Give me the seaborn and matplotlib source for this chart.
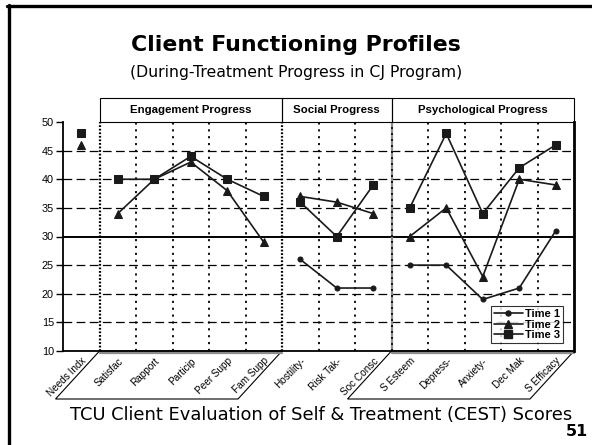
import numpy as np
import pandas as pd
import matplotlib
matplotlib.use("Agg")
import matplotlib.pyplot as plt
import matplotlib.transforms as mtransforms
from matplotlib.patches import Polygon, Rectangle
from matplotlib.lines import Line2D
import seaborn as sns

# ---- data -------------------------------------------------------------
scales = ["Needs Indx", "Satisfac", "Rapport", "Particip", "Peer Supp", "Fam Supp",
          "Hostility-", "Risk Tak-", "Soc Consc",
          "S Esteem", "Depress-", "Anxiety-", "Dec Mak", "S Efficacy"]
domains = ["Needs"] + ["Engagement"] * 5 + ["Social"] * 3 + ["Psychological"] * 5
time1 = [np.nan, np.nan, np.nan, np.nan, np.nan, np.nan, 26, 21, 21, 25, 25, 19, 21, 31]
time2 = [46, 34, 40, 43, 38, 29, 37, 36, 34, 30, 35, 23, 40, 39]
time3 = [48, 40, 40, 44, 40, 37, 36, 30, 39, 35, 48, 34, 42, 46]
time_labels = ["Time 1", "Time 2", "Time 3"]
panel_titles = ["Engagement Progress", "Social Progress", "Psychological Progress"]
panel_spans = [(1, 5), (6, 8), (9, 13)]   # first / last scale index of each panel
y_ticks = [10, 15, 20, 25, 30, 35, 40, 45, 50]

# ---- long table -------------------------------------------------------
rows = []
for label, values in zip(time_labels, [time1, time2, time3]):
    for i, (s, d, v) in enumerate(zip(scales, domains, values)):
        if not np.isnan(v):
            rows.append({"pos": i, "scale": s, "domain": d, "Time": label, "score": v})
df = pd.DataFrame(rows)

# ---- figure -----------------------------------------------------------
sns.set_theme(style="white")
plt.rcParams["font.family"] = ["Liberation Sans", "DejaVu Sans"]
plt.rcParams["text.color"] = "black"
plt.rcParams["xtick.color"] = "black"
plt.rcParams["ytick.color"] = "black"
plt.rcParams["axes.labelcolor"] = "black"

fig = plt.figure(figsize=(5.92, 4.45), dpi=100)
ax = fig.add_axes([63 / 592, 94 / 445, 511 / 592, 229 / 445])
ax.set_facecolor("white")

ink = "#1a1a1a"
markers = {"Time 1": ("o", 3.6), "Time 2": ("^", 6.0), "Time 3": ("s", 5.2)}

# grid lines
for y in y_ticks[1:-1]:
    if y == 30:
        ax.axhline(y, color="black", lw=1.4, zorder=1)
    else:
        ax.axhline(y, color="black", lw=0.9, ls=(0, (7, 3.5)), zorder=1)

n = len(scales)
for b in np.arange(0.5, n - 1, 1.0):
    if b in (0.5, 5.5):
        ax.axvline(b, color="black", lw=1.6, ls=(0, (0.8, 0.8)), zorder=1)
    elif b == 8.5:
        ax.axvline(b, color="#8c8c8c", lw=1.6, zorder=1)
        ax.axvline(b, color="black", lw=1.2, ls=(0, (1.2, 2.4)), zorder=1)
    else:
        ax.axvline(b, color="black", lw=1.3, ls=(0, (1.2, 2.6)), zorder=1)

# profile lines, broken between domains
for label in time_labels:
    m, ms = markers[label]
    sub = df[df["Time"] == label]
    sns.lineplot(data=sub, x="pos", y="score", units="domain", estimator=None,
                 sort=False, color=ink, lw=1.2, marker=m, markersize=ms,
                 markeredgecolor=ink, markerfacecolor=ink, legend=False,
                 ax=ax, zorder=3)

ax.set_xlim(-0.5, n - 0.5)
ax.set_ylim(10, 50)
ax.set_yticks(y_ticks)
ax.set_xticks(range(n))
ax.set_xticklabels(scales, rotation=45, ha="right", va="top",
                   rotation_mode="anchor", fontsize=7.2)
ax.tick_params(axis="x", length=0, pad=3.5)
ax.tick_params(axis="y", length=5, width=1, pad=1.5, labelsize=7.8,
               direction="out", left=True, color="black")
ax.set_xlabel("")
ax.set_ylabel("")
for side in ["left", "bottom", "right"]:
    ax.spines[side].set_visible(True)
    ax.spines[side].set_color("black")
ax.spines["left"].set_linewidth(1.3)
ax.spines["bottom"].set_linewidth(1.3)
ax.spines["right"].set_linewidth(2.0)
ax.spines["top"].set_visible(False)

# panel headers and slanted floors
blend = mtransforms.blended_transform_factory(ax.transData, ax.transAxes)
dx, dy = -44 / 36.5, -48 / 229
for title, (a, b) in zip(panel_titles, panel_spans):
    x0, x1 = a - 0.5, b + 0.5
    ax.add_patch(Rectangle((x0, 1.0), x1 - x0, 0.105, transform=blend,
                           fill=False, ec="black", lw=0.8, clip_on=False))
    ax.text((x0 + x1) / 2, 1.052, title, transform=blend, ha="center",
            va="center", fontsize=8.2, fontweight="bold", color="black")
    if title != "Social Progress":
        ax.add_patch(Polygon([(x0, 0), (x1, 0), (x1 + dx, dy), (x0 + dx, dy)],
                             closed=True, transform=blend, fc="none", ec="black",
                             lw=0.8, clip_on=False, zorder=0))
        ax.plot([x0, x1], [-0.008, -0.008], transform=blend, color="#8c8c8c",
                lw=1.6, clip_on=False, zorder=0)

# legend
handles = [Line2D([], [], color=ink, lw=1.2, marker=markers[t][0],
                  markersize=markers[t][1], markerfacecolor=ink,
                  markeredgecolor=ink) for t in time_labels]
leg = ax.legend(handles, time_labels, loc="lower right",
                bbox_to_anchor=(0.978, 0.035), borderaxespad=0, frameon=True,
                fancybox=False, edgecolor="black", handlelength=2.6,
                handletextpad=0.2, labelspacing=0.05, borderpad=0.25,
                prop={"weight": "bold", "size": 8})
leg.get_frame().set_linewidth(0.8)

# titles and captions
fig.text(0.5, 1 - 45 / 445, "Client Functioning Profiles", ha="center",
         va="center", fontsize=15.8, fontweight="bold", family="DejaVu Sans")
fig.text(0.5, 1 - 72 / 445, "(During-Treatment Progress in CJ Program)",
         ha="center", va="center", fontsize=11.3, family="DejaVu Sans")
fig.text(321 / 592, 1 - 415 / 445,
         "TCU Client Evaluation of Self & Treatment (CEST) Scores",
         ha="center", va="center", fontsize=12.9, family="DejaVu Sans")
fig.text(588 / 592, 1 - 432 / 445, "51", ha="right", va="center",
         fontsize=11.5, fontweight="bold", family="DejaVu Sans")

# slide frame
fig.add_artist(Line2D([7 / 592, 1], [1 - 6 / 445, 1 - 6 / 445],
                      transform=fig.transFigure, color="black", lw=2.4))
fig.add_artist(Line2D([8.5 / 592, 8.5 / 592], [1 - 5 / 445, 0],
                      transform=fig.transFigure, color="black", lw=2.4))

fig.savefig("out.png", dpi=100, facecolor="white")
